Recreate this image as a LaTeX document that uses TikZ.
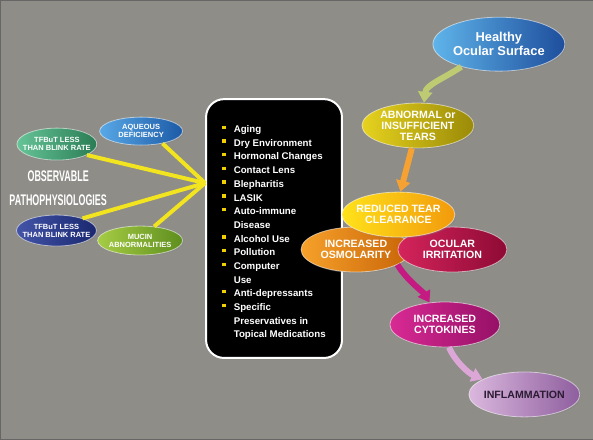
\documentclass[tikz,border=0pt]{standalone}
\usepackage{fontspec}
\setmainfont{Liberation Sans}
\usetikzlibrary{arrows.meta,shapes.geometric,shadows}
\definecolor{bggray}{HTML}{8E8D88}
\definecolor{spokeyellow}{HTML}{F2E41E}
\definecolor{bulletyellow}{HTML}{F0D000}
\definecolor{inflamtext}{HTML}{2B1B33}
\definecolor{healthyL}{HTML}{5FB4EA}\definecolor{healthyR}{HTML}{1E4E9C}
\definecolor{abnormalL}{HTML}{E6D21E}\definecolor{abnormalR}{HTML}{9A8A08}
\definecolor{clearanceL}{HTML}{FFE21A}\definecolor{clearanceR}{HTML}{F29A0C}
\definecolor{osmoL}{HTML}{F6A12A}\definecolor{osmoR}{HTML}{C86408}
\definecolor{irritL}{HTML}{D4245C}\definecolor{irritR}{HTML}{8E0A34}
\definecolor{cytoL}{HTML}{D82A94}\definecolor{cytoR}{HTML}{961066}
\definecolor{inflamL}{HTML}{DBB8DE}\definecolor{inflamR}{HTML}{8E5E9E}
\definecolor{aqueousL}{HTML}{58A8E6}\definecolor{aqueousR}{HTML}{1C5AA6}
\definecolor{greenL}{HTML}{66C497}\definecolor{greenR}{HTML}{2A7C55}
\definecolor{navyL}{HTML}{4354A8}\definecolor{navyR}{HTML}{1A2870}
\definecolor{mucinL}{HTML}{A6CC44}\definecolor{mucinR}{HTML}{5E8E1E}
\definecolor{flowgreen}{HTML}{BFCB72}
\definecolor{floworange}{HTML}{F6A233}
\definecolor{flowmagenta}{HTML}{C41A82}
\definecolor{flowpink}{HTML}{DCA6D6}
\newcommand\causebullet{\textcolor{bulletyellow}{\rule[3.5pt]{3.5pt}{3.5pt}}}
\tikzset{
  bubble/.style={
    ellipse,
    draw=white, draw opacity=0.55,
    line width=0.8pt,
    inner xsep=-6pt, inner ysep=0pt,
    align=center,
    text=white,
    font=\bfseries\fontsize{10.6}{11}\selectfont,
    drop shadow={shadow xshift=1.2pt, shadow yshift=-1.2pt, opacity=0.35}
  },
  smallbubble/.style={
    bubble,
    inner xsep=-9pt,
    font=\bfseries\fontsize{7.5}{8}\selectfont
  }
}

\begin{document}
\begin{tikzpicture}[
    x=1pt, y=-1pt,
    causebox/.style={
      draw=white,
      line width=2pt,
      fill=black,
      rounded corners=18pt,
      minimum width=136pt,
      minimum height=259pt,
      text=white,
      font=\bfseries\fontsize{9.7}{13.7}\selectfont
    },
    spoke/.style={
      draw=spokeyellow,
      line width=4pt
    },
    flow/.style={
      draw=#1, fill=#1,
      line width=6pt,
      -{Triangle[width=14pt,length=11pt]}
    }
  ]
  \fill[bggray, draw=black!60] (0,0) rectangle (593,439);
  \useasboundingbox (0,0) rectangle (593,439);

  \node[causebox] (causes) at (274,228.5) {%
    \begin{tabular}{@{}l@{\hspace{8pt}}l@{}}
      \noalign{\vspace{8pt}}
      \causebullet & Aging\\
      \causebullet & Dry Environment\\
      \causebullet & Hormonal Changes\\
      \causebullet & Contact Lens\\
      \causebullet & Blepharitis\\
      \causebullet & LASIK\\
      \causebullet & Auto-immune\\
                   & Disease\\
      \causebullet & Alcohol Use\\
      \causebullet & Pollution\\
      \causebullet & Computer\\
                   & Use\\
      \causebullet & Anti-depressants\\
      \causebullet & Specific\\
                   & Preservatives in\\
                   & Topical Medications
    \end{tabular}};

  \node[smallbubble, minimum width=83pt, minimum height=28pt,
    left color=aqueousL, right color=aqueousR] (aqueous) at (141,131) {AQUEOUS\\DEFICIENCY};
  \node[smallbubble, minimum width=80pt, minimum height=32pt,
    left color=greenL, right color=greenR] (tfbutgreen) at (56.7,144) {TFBuT LESS\\THAN BLINK RATE};
  \node[smallbubble, minimum width=80pt, minimum height=31pt,
    left color=navyL, right color=navyR] (tfbutnavy) at (56.3,230.5) {TFBuT LESS\\THAN BLINK RATE};
  \node[smallbubble, minimum width=85pt, minimum height=29pt,
    left color=mucinL, right color=mucinR] (mucin) at (140,240.5) {MUCIN\\ABNORMALITIES};

  \node[text=white, align=center, font=\bfseries\fontsize{15.4}{24}\selectfont] (observable) at (58,188)
    {\scalebox{0.58}[1]{OBSERVABLE}\\\scalebox{0.58}[1]{PATHOPHYSIOLOGIES}};

  \coordinate (hub) at (205,183);
  \draw[spoke] (aqueous.330) -- (hub);
  \draw[spoke] (tfbutgreen.340) -- (hub);
  \draw[spoke] (tfbutnavy.25) -- (hub);
  \draw[spoke] (mucin.45) -- (hub);

  \node[bubble, minimum width=132pt, minimum height=54pt,
    font=\bfseries\fontsize{12.9}{14}\selectfont,
    left color=healthyL, right color=healthyR] (healthy) at (499,44) {Healthy\\Ocular Surface};
  \node[bubble, minimum width=112pt, minimum height=45pt,
    left color=abnormalL, right color=abnormalR] (abnormal) at (418,125.4) {ABNORMAL or\\INSUFFICIENT\\TEARS};
  \node[bubble, minimum width=110pt, minimum height=45pt,
    left color=osmoL, right color=osmoR] (osmolarity) at (356,249.5) {INCREASED\\OSMOLARITY};
  \node[bubble, minimum width=109pt, minimum height=45pt,
    left color=irritL, right color=irritR] (irritation) at (452.5,249.5) {OCULAR\\IRRITATION};
  \node[bubble, minimum width=113pt, minimum height=45pt,
    left color=clearanceL, right color=clearanceR] (clearance) at (398.5,214.5) {REDUCED TEAR\\CLEARANCE};
  \node[bubble, minimum width=110pt, minimum height=45pt,
    left color=cytoL, right color=cytoR] (cytokines) at (445,324.5) {INCREASED\\CYTOKINES};
  \node[bubble, minimum width=111pt, minimum height=45pt, text=inflamtext,
    left color=inflamL, right color=inflamR] (inflammation) at (524.5,394.5) {INFLAMMATION};

  \draw[flow=flowgreen] (healthy.211) .. controls +(-18,12) and +(2,-18) .. (abnormal.75);
  \draw[flow=floworange] (abnormal.255) -- (clearance.85);
  \draw[flow=flowmagenta] (osmolarity.340) .. controls +(8,14) and +(-6,-10) .. (cytokines.125);
  \draw[flow=flowpink] (cytokines.280) .. controls +(6,14) and +(-14,-6) .. (inflammation.160);
\end{tikzpicture}
\end{document}
